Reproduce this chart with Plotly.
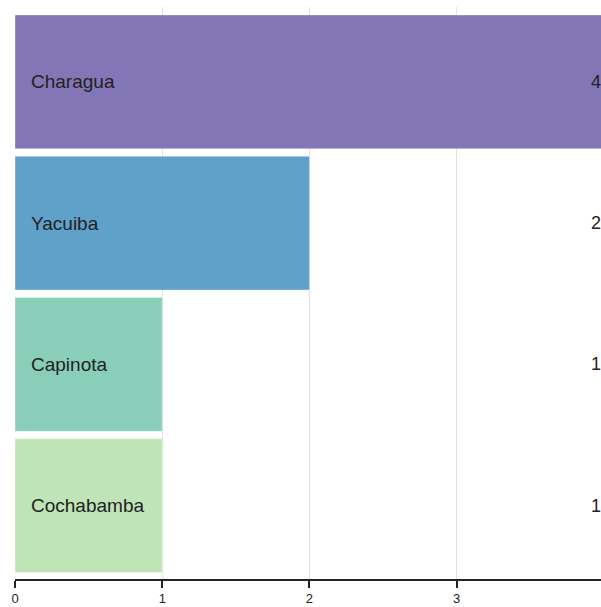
import plotly.graph_objects as go

categories = ["Charagua", "Yacuiba", "Capinota", "Cochabamba"]
values = [4, 2, 1, 1]
colors = ["#7e72b4", "#5b9ec9", "#86cdb7", "#bde4b5"]
tick_vals = [0, 1, 2, 3]

FONT = "Liberation Sans, Arial"

fig = go.Figure()
fig.add_trace(go.Bar(
    y=categories, x=values, orientation="h",
    marker=dict(color=colors, opacity=0.97,
                line=dict(color="rgba(255,255,255,0.35)", width=1)),
    width=0.947, hoverinfo="skip", showlegend=False,
))

annotations = []
for c, v in zip(categories, values):
    annotations.append(dict(x=0, y=c, xref="x", yref="y", text=c, showarrow=False,
                            xanchor="left", xshift=14,
                            font=dict(family=FONT, size=19, color="#222")))
    annotations.append(dict(x=1, y=c, xref="paper", yref="y", text=str(v), showarrow=False,
                            xanchor="right", xshift=2,
                            font=dict(family=FONT, size=18, color="#222")))

fig.update_layout(
    width=601, height=607,
    margin=dict(l=15, r=0, t=7, b=28),
    paper_bgcolor="white", plot_bgcolor="white",
    annotations=annotations,
    xaxis=dict(range=[0, 3.98], tickvals=tick_vals, showgrid=True, gridcolor="#e2e2e2",
               gridwidth=1, zeroline=False, showline=True, linecolor="#222", linewidth=1.5,
               ticks="outside", ticklen=7, tickcolor="#222", tickwidth=1.5,
               ticklabelstandoff=0, automargin=False,
               tickfont=dict(family=FONT, size=13, color="#222")),
    yaxis=dict(categoryorder="array", categoryarray=categories,
               range=[3.519, -0.530], showticklabels=False, showgrid=False,
               zeroline=False, showline=False, automargin=False),
)
fig.write_html("out.html", config={"displayModeBar": False},
               post_script="document.body.style.margin='0';")
